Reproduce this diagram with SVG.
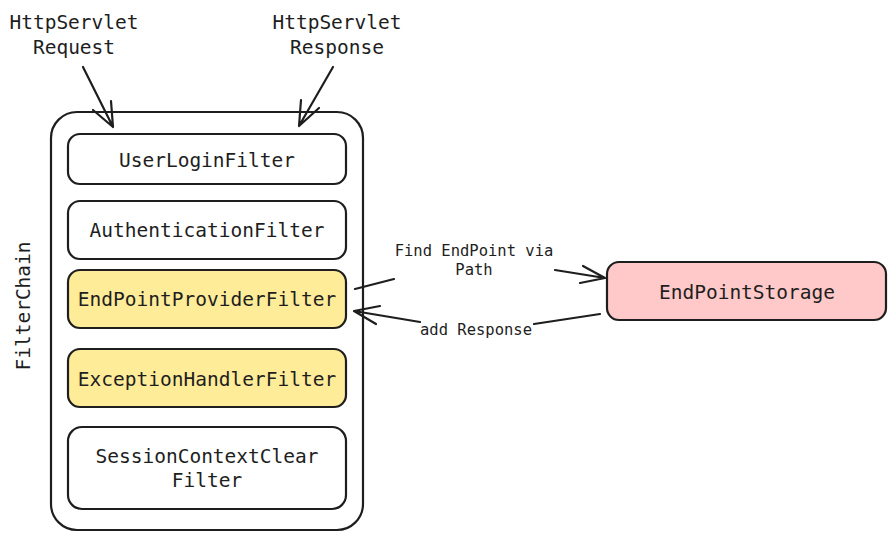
<svg xmlns="http://www.w3.org/2000/svg" width="896" height="540" viewBox="0 0 896 540">
<style>
.box{stroke:#1e1e1e;stroke-width:2.2;}
.t{font-family:"DejaVu Sans Mono","Liberation Mono",monospace;font-size:19.5px;fill:#1e1e1e;text-anchor:middle;dominant-baseline:central;}
.s{font-family:"DejaVu Sans Mono","Liberation Mono",monospace;font-size:15.5px;fill:#1e1e1e;text-anchor:middle;dominant-baseline:central;}
.c{stroke:#1e1e1e;stroke-width:2.2;fill:none;stroke-linecap:round;stroke-linejoin:round;}
</style>
<rect width="896" height="540" fill="#ffffff"/>
<g id="filterchain">
<rect class="box" x="51" y="112" width="312" height="418" rx="26" fill="#ffffff"/>
<text class="t" transform="translate(23,306) rotate(-90)" font-size="17">FilterChain</text>
</g>
<g id="userloginfilter">
<rect class="box" x="68" y="134" width="278" height="50" rx="12" fill="#ffffff"/>
<text class="t" x="207" y="160">UserLoginFilter</text>
</g>
<g id="authenticationfilter">
<rect class="box" x="68" y="201" width="278" height="58" rx="12" fill="#ffffff"/>
<text class="t" x="207" y="230">AuthenticationFilter</text>
</g>
<g id="endpointproviderfilter">
<rect class="box" x="68" y="270" width="278" height="58" rx="12" fill="#ffec99"/>
<text class="t" x="207" y="299">EndPointProviderFilter</text>
</g>
<g id="exceptionhandlerfilter">
<rect class="box" x="68" y="349" width="278" height="58" rx="12" fill="#ffec99"/>
<text class="t" x="207" y="379">ExceptionHandlerFilter</text>
</g>
<g id="sessioncontextclearfilter">
<rect class="box" x="68" y="427" width="278" height="82" rx="14" fill="#ffffff"/>
<text class="t" x="207" y="456">SessionContextClear</text>
<text class="t" x="207" y="480">Filter</text>
</g>
<g id="endpointstorage">
<rect class="box" x="607" y="262" width="279" height="58" rx="12" fill="#ffc9c9"/>
<text class="t" x="747" y="292">EndPointStorage</text>
</g>
<g id="request-label">
<text class="t" x="74" y="22">HttpServlet</text>
<text class="t" x="74" y="47">Request</text>
</g>
<g id="response-label">
<text class="t" x="337" y="22">HttpServlet</text>
<text class="t" x="337" y="47">Response</text>
</g>
<g id="connectors">
<path class="c" d="M83,67 L113,127 M93,110 L113,127 L111,101"/>
<path class="c" d="M333,67 L299,126 M301,100 L299,126 L319,108"/>
<path class="c" d="M355,289 L394,279 M555,270 L605,278 M583,266 L605,278 L580,283"/>
<path class="c" d="M600,314 L534,324 M420,322 L354,311 M380,306 L354,311 L376,324"/>
<text class="s" x="474" y="251">Find EndPoint via</text>
<text class="s" x="474" y="270">Path</text>
<text class="s" x="476" y="330">add Response</text>
</g>
</svg>
